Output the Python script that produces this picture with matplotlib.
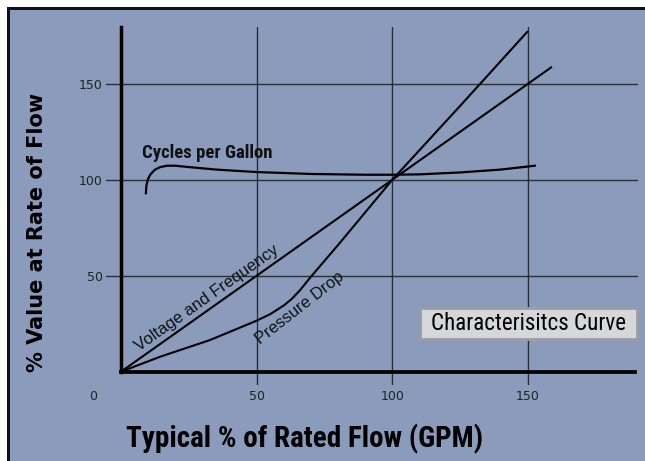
import matplotlib
matplotlib.use('agg')
import matplotlib.pyplot as plt
from matplotlib.patches import Rectangle

# data
volt_x = [0, 158.5]
volt_y = [0, 158.5]

press_x = [0, 14.4, 32.8, 50, 55, 60, 63, 66, 70, 80, 90, 100, 125, 149.7]
press_y = [0, 7.8, 16.5, 26.6, 30, 34.5, 38, 42.5, 49.5, 66, 83, 100, 138.5, 177]

cyc_x = [9.2, 9.4, 10, 11, 12.5, 14.5, 17, 20, 25, 35, 50, 70, 90, 100, 110, 125, 140, 152.5]
cyc_y = [93, 97, 100.5, 103, 105.2, 106.6, 107.3, 107.3, 106.6, 105.3, 104, 103, 102.6, 102.6, 102.8, 103.8, 105.3, 107.3]

ticks = [50, 100, 150]

narrow = ['Liberation Sans Narrow', 'Roboto Condensed', 'Open Sans Condensed', 'DejaVu Sans']

bg = '#8a9bbb'
fig = plt.figure(figsize=(6.45, 4.61), dpi=100, facecolor=bg)
ax = fig.add_axes([106/645, 1 - 385/461, (637.7 - 106)/645, (385 - 26.7)/461])
ax.set_facecolor(bg)
ax.set_xlim(-5.5, 190.4)
ax.set_ylim(-6.9, 179.7)

for s in ['top', 'right']:
    ax.spines[s].set_visible(False)
ax.spines['left'].set_position(('data', 0))
ax.spines['bottom'].set_position(('data', 0))
ax.spines['left'].set_bounds(0, 179.7)
ax.spines['bottom'].set_bounds(0, 189.4)
ax.spines['left'].set_linewidth(2.5)
ax.spines['bottom'].set_linewidth(2.7)

ax.set_xticks(ticks)
ax.set_yticks(ticks)
ax.tick_params(length=0, labelsize=9, labelcolor='#222222')
ax.tick_params(axis='y', pad=13)
ax.tick_params(axis='x', pad=13)
ax.grid(True, color='#2b2e35', linewidth=1.0)
ax.set_axisbelow(True)
ax.text(-10.2, -12.7, '0', fontsize=9, color='#222222', ha='center', va='center', clip_on=False)

ax.plot(volt_x, volt_y, color='black', lw=1.5)
ax.plot(press_x, press_y, color='black', lw=1.5)
ax.plot(cyc_x, cyc_y, color='black', lw=1.6)

ax.text(31.7, 111.1, 'Cycles per Gallon', fontsize=13.5, family=narrow, weight='bold',
        stretch='condensed', color='#111111', ha='center', va='baseline')
ax.text(31.6, 38.4, 'Voltage and Frequency', fontsize=12, family='Liberation Sans',
        color='#111111', ha='center', va='center', rotation=35.3, rotation_mode='anchor')
ax.text(66, 33.2, 'Pressure Drop', fontsize=12, family='Liberation Sans',
        color='#111111', ha='center', va='center', rotation=38, rotation_mode='anchor')

# label box
ax.add_patch(Rectangle((110.2, 17), 79.8, 16.3, facecolor='#d5d7da', edgecolor='#9a9da3',
                       lw=2, clip_on=False, zorder=5))
ax.text(150.1, 25.1, 'Characterisitcs Curve', fontsize=16.6, family=narrow, stretch='condensed',
        color='black', ha='center', va='center', zorder=6)

fig.text(37/645, 1 - 232/461, '% Value at Rate of Flow', fontsize=15, weight='heavy',
         rotation=90, ha='center', va='center', color='black')
fig.text(305/645, 1 - 439/461, 'Typical % of Rated Flow (GPM)', fontsize=21, weight='heavy',
         family=narrow, stretch='condensed', ha='center', va='center', color='black')

# white strips and dark frame on top/left edges
fig.add_artist(Rectangle((0, 1 - 7/461), 1, 7/461, transform=fig.transFigure, facecolor='white', lw=0))
fig.add_artist(Rectangle((0, 0), 6.5/645, 1, transform=fig.transFigure, facecolor='white', lw=0))
fig.add_artist(Rectangle((6.5/645, 0), 3/645, 1 - 7/461, transform=fig.transFigure, facecolor='#111111', lw=0))
fig.add_artist(Rectangle((6.5/645, 1 - 10/461), 1, 3/461, transform=fig.transFigure, facecolor='#111111', lw=0))

fig.savefig('out.png', dpi=100, facecolor=bg)
